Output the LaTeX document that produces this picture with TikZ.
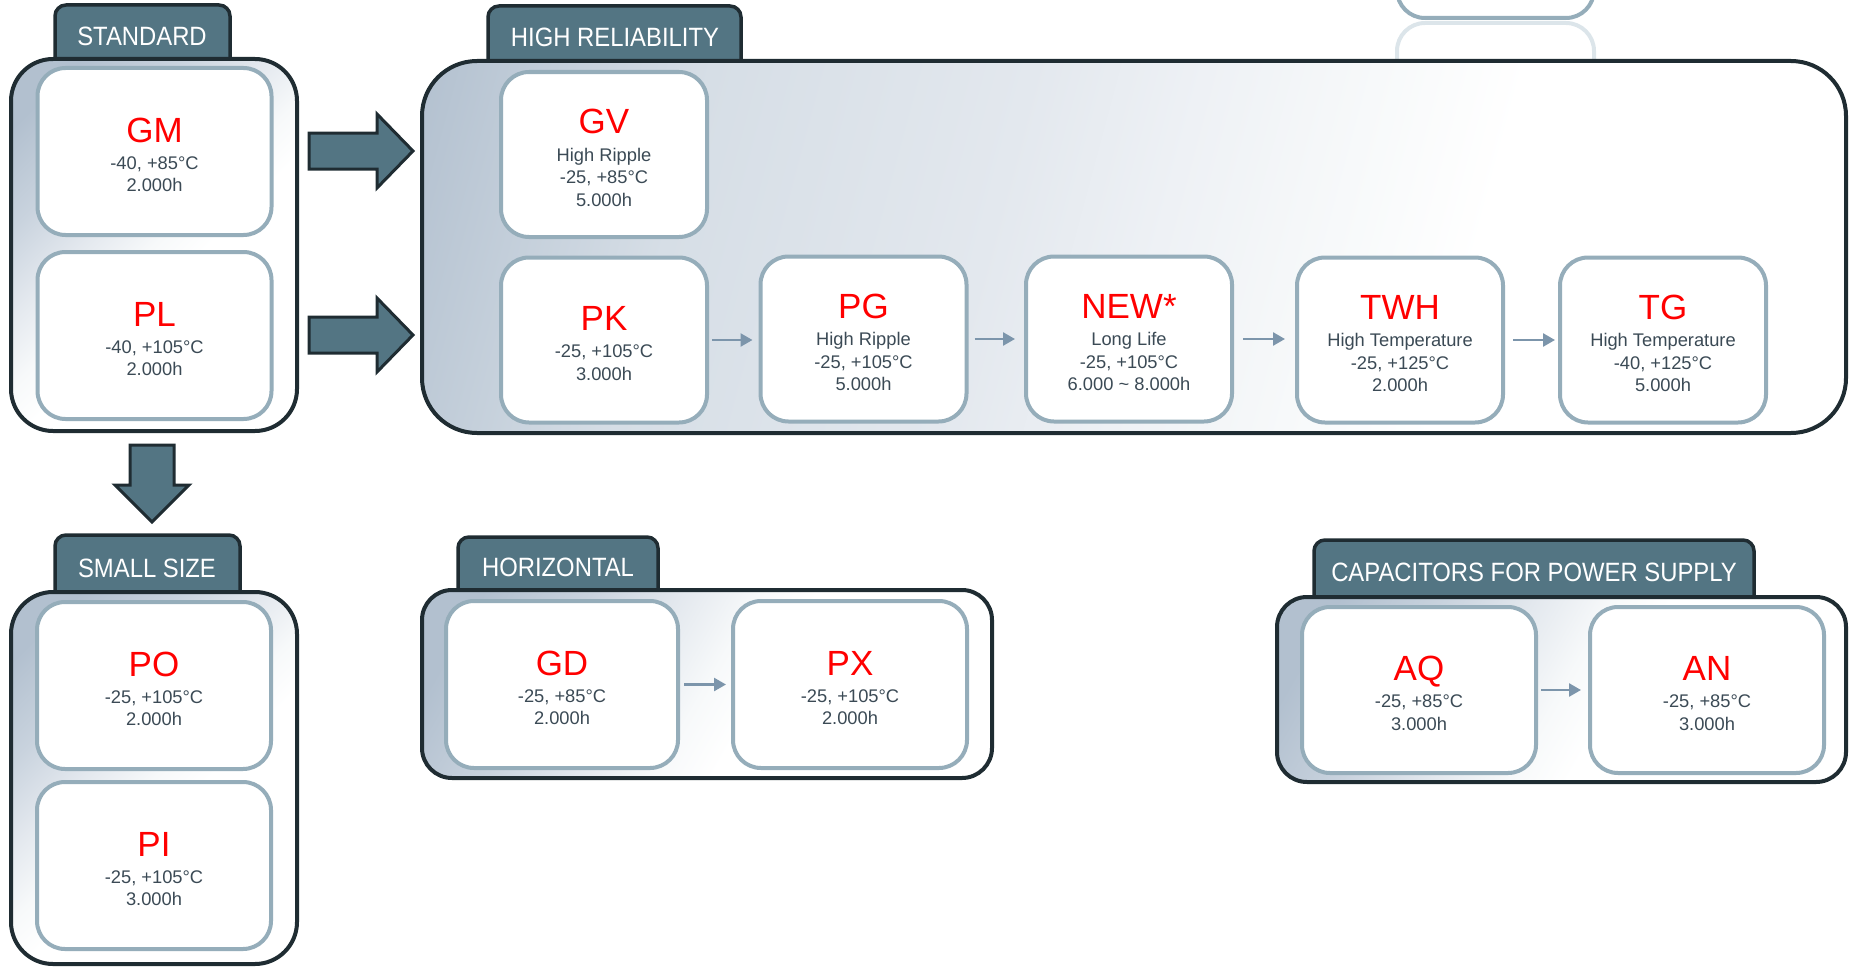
\documentclass[tikz,border=0pt]{standalone}
\usepackage{fontspec}
\setmainfont{Liberation Sans}
\newfontfamily\tabfont[FakeStretch=0.9]{Liberation Sans}
\usetikzlibrary{arrows.meta}
\definecolor{dark}{HTML}{1F2C32}
\definecolor{tabc}{HTML}{537583}
\definecolor{cardb}{HTML}{95ADBA}
\definecolor{detc}{HTML}{3B4A55}
\definecolor{arrc}{HTML}{7C95AB}
\definecolor{refl}{HTML}{DCE5EA}
\definecolor{ga}{HTML}{B2C0CF}
\definecolor{gb}{HTML}{C9D3DE}
\definecolor{gc}{HTML}{D6DEE6}
\definecolor{gd}{HTML}{E3E8EE}
\definecolor{ge}{HTML}{EEF1F5}
\definecolor{gf}{HTML}{F7F9FA}
\pgfdeclarehorizontalshading{hrshade}{100bp}{color(0bp)=(ga); color(19bp)=(ga); color(31bp)=(gc); color(44bp)=(gd); color(51bp)=(ge); color(58bp)=(gf); color(64bp)=(white); color(100bp)=(white)}
\pgfdeclarehorizontalshading{boxshade}{100bp}{color(0bp)=(ga); color(22bp)=(ga); color(33bp)=(gb); color(42bp)=(gd); color(50bp)=(gf); color(56bp)=(white); color(100bp)=(white)}
\newcommand\pname[1]{{\fontsize{35}{35}\selectfont\rule{0pt}{31pt}\textcolor{red}{#1}}\\[5pt]}
\tikzset{
  outer/.style={draw=dark, line width=4pt},
  tabshape/.style={fill=tabc, draw=dark, line width=3.5pt, rounded corners=11pt},
  tabtext/.style={text=white, font=\tabfont\fontsize{26.5}{30}\selectfont, anchor=base, inner sep=0pt},
  card/.style={draw=cardb, line width=4pt, fill=white, rounded corners=28pt, align=center,
    text=detc, font=\fontsize{18.3}{22.4}\selectfont, inner sep=0pt},
  hrcard/.style={card, minimum width=206pt, minimum height=165pt},
  wcard/.style={card, minimum width=234pt, minimum height=167pt},
  flow/.style={draw=arrc, line width=2.5pt, -{Triangle[length=12pt,width=13pt]}},
  bigarrow/.style={fill=tabc, draw=dark, line width=3pt, line join=miter},
}
\begin{document}
\begin{tikzpicture}[x=1pt,y=-1pt]
\useasboundingbox (0,0) rectangle (1849,966);

% partial box at the top and its reflection
\draw[draw=cardb, fill=white, line width=4pt, rounded corners=28pt] (1397,-80) rectangle (1594,18);
\draw[draw=refl, line width=4pt, rounded corners=28pt] (1397,64) -- (1397,23) -- (1594,23) -- (1594,64);

% STANDARD
\draw[tabshape] (55,59) -- (55,5) -- (230,5) -- (230,59);
\shadedraw[outer, rounded corners=42pt, shading=boxshade, shading angle=-45] (11,59) rectangle (297,431);
\node[tabtext] (tstd) at (142,46) {STANDARD};

% HIGH RELIABILITY
\draw[tabshape] (488,61) -- (488,6) -- (741,6) -- (741,61);
\shadedraw[outer, rounded corners=55pt, shading=hrshade, shading angle=-15] (422,61) rectangle (1846,433);
\node[tabtext] (thr) at (615,47) {HIGH RELIABILITY};

% SMALL SIZE
\draw[tabshape] (55,592) -- (55,535) -- (240,535) -- (240,592);
\shadedraw[outer, rounded corners=42pt, shading=boxshade, shading angle=-45] (11,592) rectangle (297,964);
\node[tabtext] (tsm) at (147,577) {SMALL SIZE};

% HORIZONTAL
\draw[tabshape] (458,590) -- (458,537) -- (658,537) -- (658,590);
\shadedraw[outer, rounded corners=30pt, shading=boxshade, shading angle=-30] (422,590) rectangle (992,778);
\node[tabtext] (thz) at (558,576) {HORIZONTAL};

% CAPACITORS FOR POWER SUPPLY
\draw[tabshape] (1314,597) -- (1314,540) -- (1754,540) -- (1754,597);
\shadedraw[outer, rounded corners=30pt, shading=boxshade, shading angle=-30] (1277,597) rectangle (1846,782);
\node[tabtext] (tcap) at (1534,581) {CAPACITORS FOR POWER SUPPLY};

% big arrows
\draw[bigarrow] (309,133) -- (377,133) -- (377,114) -- (413,151) -- (377,188) -- (377,169) -- (309,169) -- cycle;
\draw[bigarrow] (309,317) -- (377,317) -- (377,298) -- (413,335) -- (377,372) -- (377,353) -- (309,353) -- cycle;
\draw[bigarrow] (130,445) -- (174,445) -- (174,485) -- (189,485) -- (152,522) -- (115,485) -- (130,485) -- cycle;

% cards
\node[wcard] (gm) at (154.5,151.5) {\pname{GM}-40, +85°C\\2.000h};
\node[wcard] (pl) at (154.5,335.5) {\pname{PL}-40, +105°C\\2.000h};
\node[hrcard] (gv) at (604,154.5) {\pname{GV}High Ripple\\-25, +85°C\\5.000h};
\node[hrcard] (pk) at (604,340) {\pname{PK}-25, +105°C\\3.000h};
\node[hrcard] (pg) at (863.5,339) {\pname{PG}High Ripple\\-25, +105°C\\5.000h};
\node[hrcard] (nw) at (1129,339) {\pname{NEW*}Long Life\\-25, +105°C\\6.000 \textasciitilde{} 8.000h};
\node[hrcard] (twh) at (1400,340) {\pname{TWH}High Temperature\\-25, +125°C\\2.000h};
\node[hrcard] (tg) at (1663,340) {\pname{TG}High Temperature\\-40, +125°C\\5.000h};
\node[wcard] (po) at (154,685.5) {\pname{PO}-25, +105°C\\2.000h};
\node[wcard] (pi) at (154,865.5) {\pname{PI}-25, +105°C\\3.000h};
\node[wcard, minimum width=232pt] (gdb) at (562,684.5) {\pname{GD}-25, +85°C\\2.000h};
\node[wcard] (px) at (850,684.5) {\pname{PX}-25, +105°C\\2.000h};
\node[wcard, minimum height=166pt] (aq) at (1419,690) {\pname{AQ}-25, +85°C\\3.000h};
\node[wcard, minimum height=166pt] (an) at (1707,690) {\pname{AN}-25, +85°C\\3.000h};

% small arrows
\draw[flow, shorten <=3pt, shorten >=6pt] (pk.east) -- (pk.east -| pg.west);
\draw[flow, shorten <=6pt, shorten >=9pt] (pg.east) -- (pg.east -| nw.west);
\draw[flow, shorten <=9pt, shorten >=10pt] (nw.east) -- (nw.east -| twh.west);
\draw[flow, shorten <=8pt, shorten >=3pt] (twh.east) -- (twh.east -| tg.west);
\draw[flow, shorten <=4pt, shorten >=5pt] (gdb.east) -- (gdb.east -| px.west);
\draw[flow, shorten <=3pt, shorten >=7pt] (aq.east) -- (aq.east -| an.west);
\end{tikzpicture}
\end{document}
